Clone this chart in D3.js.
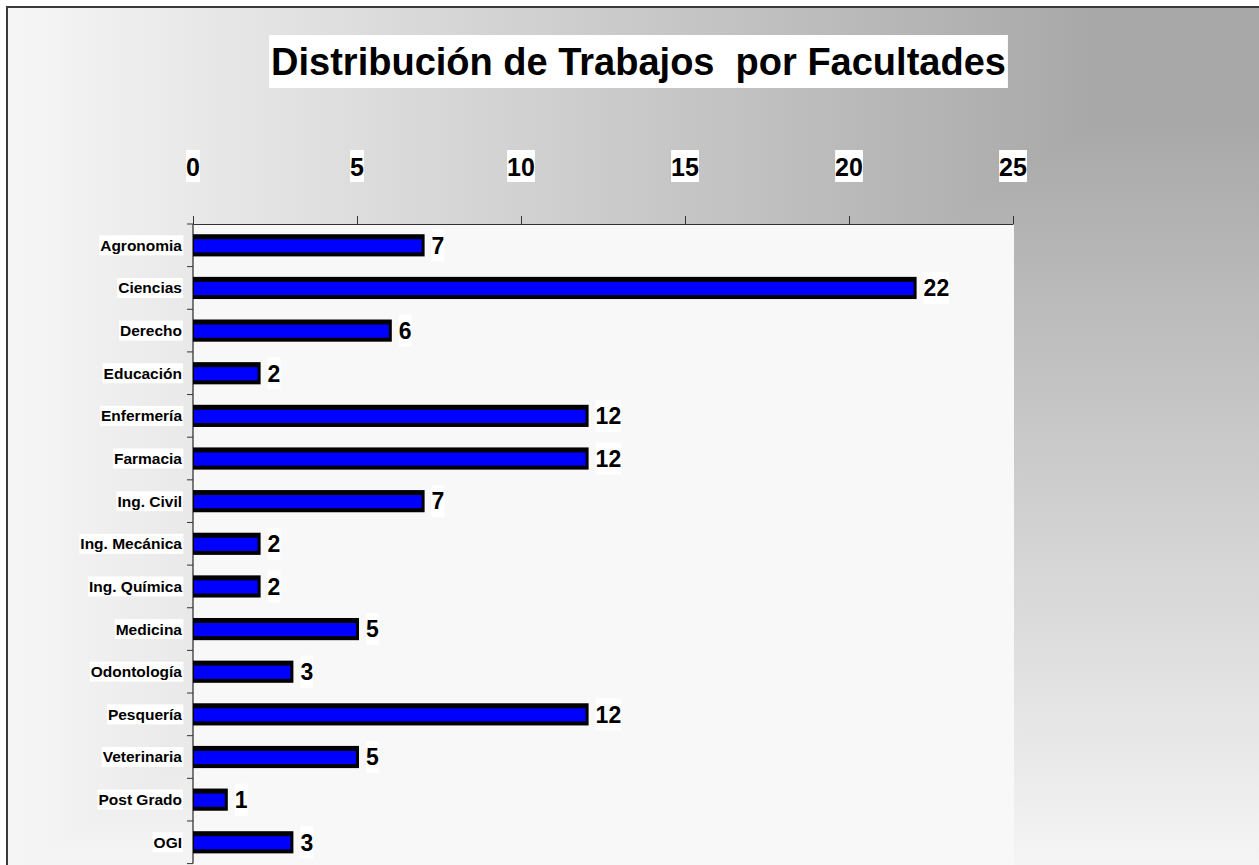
<!DOCTYPE html>
<html>
<head>
<meta charset="utf-8">
<script src="https://cdn.jsdelivr.net/npm/d3@7"></script>
<style>
  body { margin: 0; background: #fff; }
  text { font-family: "Liberation Sans", Arial, sans-serif; font-weight: bold; fill: #000; }
</style>
</head>
<body>
<script>
const titleText = "Distribución de Trabajos\u00a0 por Facultades";
const categories = ["Agronomia", "Ciencias", "Derecho", "Educación", "Enfermería", "Farmacia",
  "Ing. Civil", "Ing. Mecánica", "Ing. Química", "Medicina", "Odontología", "Pesquería",
  "Veterinaria", "Post Grado", "OGI"];
const values = [7, 22, 6, 2, 12, 12, 7, 2, 2, 5, 3, 12, 5, 1, 3];
const tickValues = [0, 5, 10, 15, 20, 25];

const W = 1259, H = 865;
const margin = { top: 224, left: 193 };
const plotW = 820;
const step = 42.64;
const plotH = step * categories.length;

const svg = d3.select("body").append("svg")
  .attr("width", W)
  .attr("height", H);

// fondo degradado (desde la esquina superior derecha)
const defs = svg.append("defs");
const gx0 = 7, gx1 = 1097, gy0 = 880, gy1 = 120;
const light = "#f6f6f6", dark = "#a8a8a8";

const gh = defs.append("linearGradient").attr("id", "bgH")
  .attr("gradientUnits", "userSpaceOnUse")
  .attr("x1", gx0).attr("x2", gx1).attr("y1", 0).attr("y2", 0);
gh.append("stop").attr("offset", 0).attr("stop-color", light);
gh.append("stop").attr("offset", 1).attr("stop-color", dark);

const gv = defs.append("linearGradient").attr("id", "bgV")
  .attr("gradientUnits", "userSpaceOnUse")
  .attr("x1", 0).attr("x2", 0).attr("y1", gy0).attr("y2", gy1);
gv.append("stop").attr("offset", 0).attr("stop-color", light);
gv.append("stop").attr("offset", 1).attr("stop-color", dark);

svg.append("rect").attr("x", 7).attr("y", 7)
  .attr("width", W).attr("height", H).attr("fill", "url(#bgH)");

const xAt = y => gx0 + (gx1 - gx0) * (gy0 - y) / (gy0 - gy1);
svg.append("polygon")
  .attr("points", [[gx1, gy1], [W, gy1], [W, H], [xAt(H), H]].map(p => p.join(",")).join(" "))
  .attr("fill", "url(#bgV)");

// marco
svg.append("path")
  .attr("d", `M7,${H} L7,7 L${W},7`)
  .attr("fill", "none")
  .attr("stroke", "#3a3a3a")
  .attr("stroke-width", 2);

// escalas
const x = d3.scaleLinear().domain([0, 25]).range([margin.left, margin.left + plotW]);
const y = d3.scaleBand().domain(categories)
  .range([margin.top, margin.top + plotH])
  .paddingInner(0.48).paddingOuter(0.24);

// area del grafico
svg.append("rect")
  .attr("x", x(0)).attr("y", margin.top)
  .attr("width", plotW + 1).attr("height", H - margin.top)
  .attr("fill", "#f8f8f8");

// eje superior
svg.append("g")
  .attr("transform", `translate(0,${margin.top})`)
  .call(d3.axisTop(x).tickValues(tickValues).tickSize(8).tickSizeOuter(0).tickFormat(""))
  .call(g => g.selectAll("path, line").attr("stroke", "#333"));

// eje izquierdo
svg.append("line")
  .attr("x1", x(0)).attr("x2", x(0))
  .attr("y1", margin.top).attr("y2", margin.top + plotH)
  .attr("stroke", "#000");

const bounds = categories.map(c => y(c) - y.step() * y.paddingInner() / 2)
  .concat([margin.top + plotH]);
svg.append("g").selectAll("line")
  .data(bounds)
  .enter()
  .append("line")
  .attr("x1", x(0) - 6).attr("x2", x(0))
  .attr("y1", d => d).attr("y2", d => d)
  .attr("stroke", "#333");

// etiquetas del eje x
const tickG = svg.append("g");
tickValues.forEach(t => {
  const txt = tickG.append("text")
    .attr("x", x(t)).attr("y", 176)
    .attr("text-anchor", "middle")
    .style("font-size", "25px")
    .text(t);
  const bb = txt.node().getBBox();
  tickG.insert("rect", "text")
    .attr("x", bb.x).attr("y", 150)
    .attr("width", bb.width).attr("height", 32)
    .attr("fill", "#fff");
});

// barras
const bars = svg.append("g").selectAll(".bar")
  .data(categories.map((c, i) => ({ c, v: values[i] })))
  .enter()
  .append("g")
  .attr("class", "bar");

bars.append("rect")
  .attr("x", x(0))
  .attr("y", d => y(d.c))
  .attr("width", d => x(d.v) - x(0) + 2)
  .attr("height", y.bandwidth())
  .attr("fill", "#000");

bars.append("rect")
  .attr("x", x(0) + 1)
  .attr("y", d => y(d.c) + 5)
  .attr("width", d => x(d.v) - x(0) - 2)
  .attr("height", y.bandwidth() - 9)
  .attr("fill", "#0000ff");

// valores
bars.each(function (d) {
  const g = d3.select(this);
  const cy = y(d.c) + y.bandwidth() / 2;
  const txt = g.append("text")
    .attr("x", x(d.v) + 9).attr("y", cy)
    .attr("dy", "0.36em")
    .style("font-size", "23px")
    .text(d.v);
  const bb = txt.node().getBBox();
  g.insert("rect", "text")
    .attr("x", bb.x).attr("y", cy - 16)
    .attr("width", bb.width).attr("height", 32)
    .attr("fill", "#fff");
});

// etiquetas de categorias
const catG = svg.append("g");
categories.forEach(c => {
  const cy = y(c) + y.bandwidth() / 2;
  const txt = catG.append("text")
    .attr("x", 182).attr("y", cy)
    .attr("dy", "0.35em")
    .attr("text-anchor", "end")
    .style("font-size", "15.5px")
    .text(c);
  const bb = txt.node().getBBox();
  catG.insert("rect", "text")
    .attr("x", bb.x - 1).attr("y", cy - 10)
    .attr("width", bb.width + 2).attr("height", 20)
    .attr("fill", "#fff");
});

// titulo
const titleG = svg.append("g");
const title = titleG.append("text")
  .attr("x", 638.5).attr("y", 75)
  .attr("text-anchor", "middle")
  .style("font-size", "38px")
  .text(titleText);
const tb = title.node().getBBox();
titleG.insert("rect", "text")
  .attr("x", tb.x - 2).attr("y", 35)
  .attr("width", tb.width + 4).attr("height", 53)
  .attr("fill", "#fff");
</script>
</body>
</html>
